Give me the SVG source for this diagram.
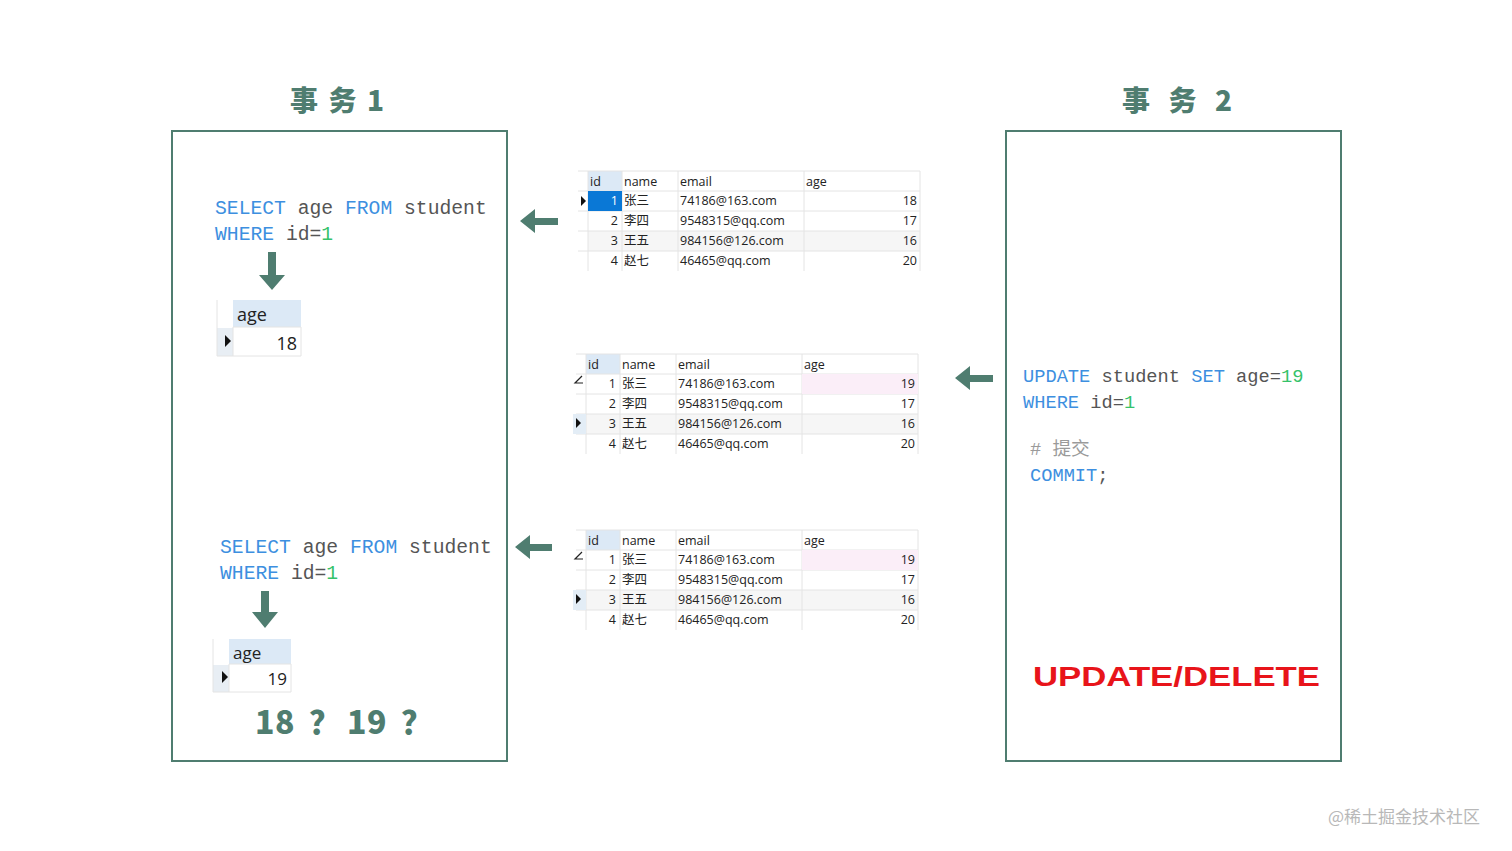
<svg xmlns="http://www.w3.org/2000/svg" width="1512" height="851" viewBox="0 0 1512 851">
<defs>
<style>
.title{font-family:"Noto Sans CJK SC","Noto Sans",sans-serif;font-weight:900;font-size:28px;fill:#4f7d70}
.box{fill:#fff;stroke:#4f7d70;stroke-width:2}
.code{font-family:"Liberation Mono","DejaVu Sans Mono",monospace;font-size:19.7px}
.code2{font-family:"Liberation Mono","DejaVu Sans Mono",monospace;font-size:18.7px}
.kw{fill:#3d8fe0}
.id{fill:#555}
.num{fill:#35c26a}
.cm{fill:#9a9a9a}
.tt{font-family:"Open Sans","Noto Sans","Noto Sans CJK SC",sans-serif;font-size:12.5px;fill:#222}
.tc{font-family:"Noto Sans CJK SC",sans-serif;font-size:12.5px;fill:#222}
.grid{stroke:#e4e4e4;stroke-width:1;fill:none}
.hdr{fill:#dce9f6}
.arrow{fill:#4f7d70}
.big{font-family:"Open Sans","Noto Sans",sans-serif;font-size:18px;fill:#222}
.big2{font-family:"Open Sans","Noto Sans",sans-serif;font-size:17px;fill:#222}
</style>
<g id="tbl-grid">
<rect x="-10" y="0" width="342" height="100" fill="#fff"/>
<rect x="0" y="0" width="34" height="20" class="hdr"/>
<rect x="0" y="60" width="332" height="20" fill="#f6f6f6"/>
<path class="grid" d="M-10 20H332M-10 40H332M-10 60H332M-10 80H332M0 0V100M34 0V100M90 0V100M216 0V100M332 0V100M-10 0H332"/>
</g>
</defs>
<rect width="1512" height="851" fill="#fff"/>

<g id="title1"><text class="title" x="290" y="111" textLength="94" lengthAdjust="spacing">事务1</text></g>
<g id="title2"><text class="title" x="1122" y="111" textLength="110" lengthAdjust="spacing">事务2</text></g>

<g id="tx1">
<rect class="box" x="172" y="131" width="335" height="630"/>
<text class="code" x="215" y="214"><tspan class="kw">SELECT</tspan><tspan class="id"> age </tspan><tspan class="kw">FROM</tspan><tspan class="id"> student</tspan></text>
<text class="code" x="215" y="240"><tspan class="kw">WHERE</tspan><tspan class="id"> id=</tspan><tspan class="num">1</tspan></text>
<path class="arrow" d="M268 252H276V275H285L272 290L259 275H268Z"/>
<g id="res1">
<rect x="217" y="300" width="84" height="56" fill="#fff"/>
<rect x="233" y="300" width="68" height="27" class="hdr"/>
<rect x="217" y="328" width="16" height="28" fill="#e8eef4"/>
<path class="grid" d="M217 300V356M233 327V356M233 327H301M217 356H301M301 327V356"/>
<text class="big" x="237" y="321">age</text>
<path d="M225 335L231 341L225 347Z" fill="#111"/>
<text class="big" x="297" y="350" text-anchor="end">18</text>
</g>
<text class="code" x="220" y="553"><tspan class="kw">SELECT</tspan><tspan class="id"> age </tspan><tspan class="kw">FROM</tspan><tspan class="id"> student</tspan></text>
<text class="code" x="220" y="579"><tspan class="kw">WHERE</tspan><tspan class="id"> id=</tspan><tspan class="num">1</tspan></text>
<path class="arrow" d="M261 591H269V612H278L265 628L252 612H261Z"/>
<g id="res2">
<rect x="213" y="639" width="78" height="53" fill="#fff"/>
<rect x="229" y="639" width="62" height="25" class="hdr"/>
<rect x="213" y="665" width="16" height="27" fill="#e8eef4"/>
<path class="grid" d="M213 639V692M229 664V692M229 664H291M213 692H291M291 664V692"/>
<text class="big2" x="233" y="659">age</text>
<path d="M222 671L228 677L222 683Z" fill="#111"/>
<text class="big2" x="287" y="685" text-anchor="end">19</text>
</g>
<text x="255 275 309 347 367 401" y="734" font-family="Noto Sans CJK SC,sans-serif" font-weight="900" font-size="32" fill="#4f7d70">18？19？</text>
</g>

<g id="tx2">
<rect class="box" x="1006" y="131" width="335" height="630"/>
<text class="code2" x="1023" y="382"><tspan class="kw">UPDATE</tspan><tspan class="id"> student </tspan><tspan class="kw">SET</tspan><tspan class="id"> age=</tspan><tspan class="num">19</tspan></text>
<text class="code2" x="1023" y="408"><tspan class="kw">WHERE</tspan><tspan class="id"> id=</tspan><tspan class="num">1</tspan></text>
<text class="code2 cm" x="1030" y="455"># <tspan font-family="Noto Sans CJK SC,sans-serif">提交</tspan></text>
<text class="code2" x="1030" y="481"><tspan class="kw">COMMIT</tspan><tspan class="id">;</tspan></text>
<text x="1033" y="686" font-family="Liberation Sans,Arial,sans-serif" font-weight="bold" font-size="27" fill="#e8141a" textLength="287" lengthAdjust="spacingAndGlyphs">UPDATE/DELETE</text>
</g>

<g id="table1" transform="translate(588,171)">
<use href="#tbl-grid"/>
<rect x="0" y="20" width="34" height="20" fill="#0a78d6"/>
<path d="M-7 25L-2 30L-7 35Z" fill="#111"/>
<text class="tt" x="2" y="15">id</text><text class="tt" x="36" y="15">name</text><text class="tt" x="92" y="15">email</text><text class="tt" x="218" y="15">age</text>
<text class="tt" x="30" y="34" text-anchor="end" style="fill:#fff">1</text><text class="tc" x="36" y="34">张三</text><text class="tt" x="92" y="34">74186@163.com</text><text class="tt" x="329" y="34" text-anchor="end">18</text>
<text class="tt" x="30" y="54" text-anchor="end">2</text><text class="tc" x="36" y="54">李四</text><text class="tt" x="92" y="54">9548315@qq.com</text><text class="tt" x="329" y="54" text-anchor="end">17</text>
<text class="tt" x="30" y="74" text-anchor="end">3</text><text class="tc" x="36" y="74">王五</text><text class="tt" x="92" y="74">984156@126.com</text><text class="tt" x="329" y="74" text-anchor="end">16</text>
<text class="tt" x="30" y="94" text-anchor="end">4</text><text class="tc" x="36" y="94">赵七</text><text class="tt" x="92" y="94">46465@qq.com</text><text class="tt" x="329" y="94" text-anchor="end">20</text>
</g>

<g id="table2" transform="translate(586,354)">
<use href="#tbl-grid"/>
<rect x="216" y="20" width="116" height="20" fill="#fbeef8"/>
<rect x="-13" y="60" width="13" height="20" fill="#e3edf6"/>
<path d="M-4 22L-11 29H-3" stroke="#222" stroke-width="1.2" fill="none"/>
<path d="M-10 64L-5 69L-10 74Z" fill="#111"/>
<text class="tt" x="2" y="15">id</text><text class="tt" x="36" y="15">name</text><text class="tt" x="92" y="15">email</text><text class="tt" x="218" y="15">age</text>
<text class="tt" x="30" y="34" text-anchor="end">1</text><text class="tc" x="36" y="34">张三</text><text class="tt" x="92" y="34">74186@163.com</text><text class="tt" x="329" y="34" text-anchor="end">19</text>
<text class="tt" x="30" y="54" text-anchor="end">2</text><text class="tc" x="36" y="54">李四</text><text class="tt" x="92" y="54">9548315@qq.com</text><text class="tt" x="329" y="54" text-anchor="end">17</text>
<text class="tt" x="30" y="74" text-anchor="end">3</text><text class="tc" x="36" y="74">王五</text><text class="tt" x="92" y="74">984156@126.com</text><text class="tt" x="329" y="74" text-anchor="end">16</text>
<text class="tt" x="30" y="94" text-anchor="end">4</text><text class="tc" x="36" y="94">赵七</text><text class="tt" x="92" y="94">46465@qq.com</text><text class="tt" x="329" y="94" text-anchor="end">20</text>
</g>

<g id="table3" transform="translate(586,530)">
<use href="#tbl-grid"/>
<rect x="216" y="20" width="116" height="20" fill="#fbeef8"/>
<rect x="-13" y="60" width="13" height="20" fill="#e3edf6"/>
<path d="M-4 22L-11 29H-3" stroke="#222" stroke-width="1.2" fill="none"/>
<path d="M-10 64L-5 69L-10 74Z" fill="#111"/>
<text class="tt" x="2" y="15">id</text><text class="tt" x="36" y="15">name</text><text class="tt" x="92" y="15">email</text><text class="tt" x="218" y="15">age</text>
<text class="tt" x="30" y="34" text-anchor="end">1</text><text class="tc" x="36" y="34">张三</text><text class="tt" x="92" y="34">74186@163.com</text><text class="tt" x="329" y="34" text-anchor="end">19</text>
<text class="tt" x="30" y="54" text-anchor="end">2</text><text class="tc" x="36" y="54">李四</text><text class="tt" x="92" y="54">9548315@qq.com</text><text class="tt" x="329" y="54" text-anchor="end">17</text>
<text class="tt" x="30" y="74" text-anchor="end">3</text><text class="tc" x="36" y="74">王五</text><text class="tt" x="92" y="74">984156@126.com</text><text class="tt" x="329" y="74" text-anchor="end">16</text>
<text class="tt" x="30" y="94" text-anchor="end">4</text><text class="tc" x="36" y="94">赵七</text><text class="tt" x="92" y="94">46465@qq.com</text><text class="tt" x="329" y="94" text-anchor="end">20</text>
</g>

<g id="connectors">
<path class="arrow" d="M520 221L535 209V218H558V225H535V233Z"/>
<path class="arrow" d="M955 378L970 366V375H993V382H970V390Z"/>
<path class="arrow" d="M515 547L530 535V544H552V551H530V559Z"/>
</g>

<text x="1328" y="823" font-family="Noto Sans CJK SC,sans-serif" font-size="17" fill="#b8b8b8">@稀土掘金技术社区</text>
</svg>
